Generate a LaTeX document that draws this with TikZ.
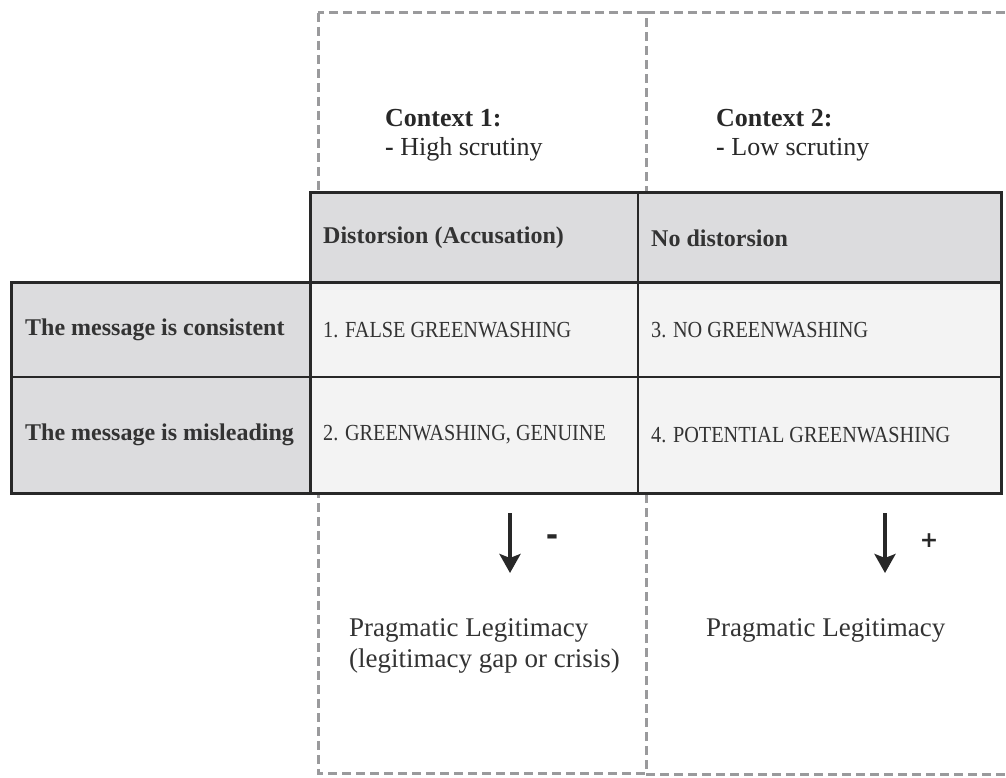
\documentclass[tikz,border=0pt]{standalone}
\usepackage{fontspec}
\setmainfont{Liberation Serif}
\newfontfamily\condfont[FakeStretch=0.88]{Liberation Serif}
\newfontfamily\signfont{DejaVu Sans}
\usetikzlibrary{arrows.meta}
\definecolor{dashgray}{HTML}{9A9A9C}
\definecolor{hdrgray}{HTML}{DCDCDE}
\definecolor{cellgray}{HTML}{F3F3F3}
\definecolor{ink}{HTML}{282828}
\definecolor{tabink}{HTML}{333333}
\begin{document}
\begin{tikzpicture}[x=1pt,y=-1pt,
  ctxbox/.style={draw=dashgray,line width=3pt,dash pattern=on 9pt off 5pt},
  thick border/.style={draw=ink,line width=3pt},
  thin border/.style={draw=ink,line width=1.6pt},
  ctxtext/.style={anchor=base west,inner sep=0pt,text=ink,font=\fontsize{26}{29}\selectfont},
  hdrtext/.style={anchor=west,inner sep=0pt,text=tabink,font=\fontsize{24}{27}\selectfont\bfseries},
  celltext/.style={anchor=west,inner sep=0pt,text=tabink,font=\condfont\fontsize{23}{26}\selectfont},
  legtext/.style={anchor=base west,inner sep=0pt,text=tabink,font=\fontsize{27}{30}\selectfont},
  signtext/.style={anchor=center,inner sep=0pt,text=ink},
  bigarrow/.style={draw=ink,line width=4pt,-{Stealth[length=19pt,width=21pt,inset=4pt]}}
]
\useasboundingbox (0,0) rectangle (1006,778);
\begin{scope}
\clip (0,0) rectangle (1006,778);
% context boxes
\draw[ctxbox] (318,13) rectangle (646,773);
\draw[ctxbox] (646,13) -- (1040,13);
\draw[ctxbox] (646,774) -- (1040,774);
\end{scope}

% context labels
\node[ctxtext] (c1a) at (385,127) {\textbf{Context 1:}};
\node[ctxtext] (c1b) at (385,156) {\textbf{-} High scrutiny};
\node[ctxtext] (c2a) at (716,127) {\textbf{Context 2:}};
\node[ctxtext] (c2b) at (716,156) {\textbf{-} Low scrutiny};

% table fills
\fill[hdrgray] (310,193) rectangle (1001,282);
\fill[hdrgray] (11,282) rectangle (310,493);
\fill[cellgray] (310,282) rectangle (1001,493);
% inner lines
\draw[thin border] (638,193) -- (638,493);
\draw[thin border] (11,377) -- (1001,377);
% outer borders
\draw[thick border] (310,193) rectangle (1001,282);
\draw[thick border] (310,282) rectangle (1001,493);
\draw[thick border] (11,282) rectangle (310,493);

% table texts
\node[hdrtext] (h1) at (323,238) {Distorsion (Accusation)};
\node[hdrtext] (h2) at (651,238) {No distorsion};
\node[hdrtext] (r1) at (25,330) {The message is consistent};
\node[hdrtext] (r2) at (25,435) {The message is misleading};
\node[celltext] (q1) at (323,330) {1. FALSE GREENWASHING};
\node[celltext] (q3) at (651,330) {3. NO GREENWASHING};
\node[celltext] (q2) at (323,435) {2. GREENWASHING, GENUINE};
\node[celltext] (q4) at (651,435) {4. POTENTIAL GREENWASHING};

% arrows
\coordinate (a1s) at (510,513);
\coordinate (a1e) at (510,573);
\coordinate (a2s) at (885,513);
\coordinate (a2e) at (885,573);
\draw[bigarrow] (a1s) -- (a1e);
\draw[bigarrow] (a2s) -- (a2e);
\node[signtext,font=\signfont\bfseries\fontsize{30}{30}\selectfont] (minus) at (552,540) {-};
\node[signtext,font=\signfont\bfseries\fontsize{22}{22}\selectfont] (plus) at (929,541) {+};

% legitimacy texts
\node[legtext] (l1) at (349,636) {Pragmatic Legitimacy};
\node[legtext] (l1b) at (349,667) {(legitimacy gap or crisis)};
\node[legtext] (l2) at (706,636) {Pragmatic Legitimacy};
\end{tikzpicture}
\end{document}
